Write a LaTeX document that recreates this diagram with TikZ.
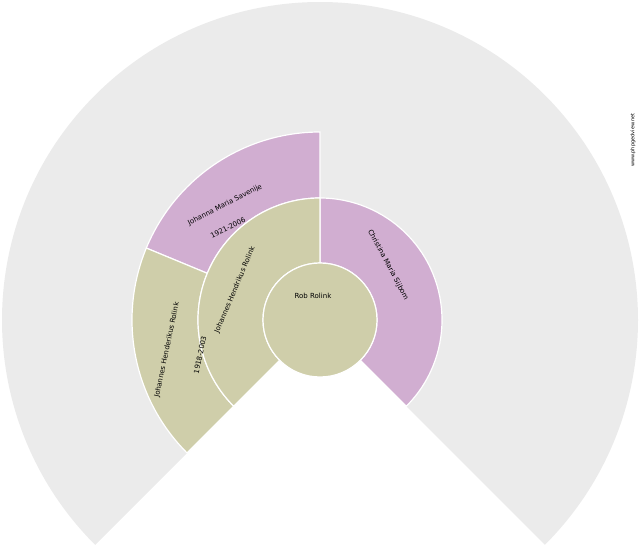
\documentclass[tikz,border=0pt]{standalone}
\usepackage{fontspec}
\setmainfont{DejaVu Sans}
\begin{document}
\begin{tikzpicture}[x=1pt,y=1pt,
 seg/.style={draw=white,line width=1.2pt},
 lbl/.style={font=\fontsize{7}{8}\selectfont,inner sep=0pt}]
\definecolor{tan}{HTML}{CFCEAA}
\definecolor{pur}{HTML}{D1AED1}
\definecolor{bg}{HTML}{EBEBEB}
\useasboundingbox (0,0) rectangle (640,550);
\coordinate (c) at (320,230);
\fill[bg] (c) -- ++(-45:318) arc[start angle=-45,end angle=225,radius=318] -- cycle;
% ring 2
\filldraw[seg,fill=pur] (c) ++(90:122) -- ++(90:66) arc[start angle=90,end angle=157.5,radius=188] -- ++(157.5:-66) arc[start angle=157.5,end angle=90,radius=122] -- cycle;
\filldraw[seg,fill=tan] (c) ++(157.5:122) -- ++(157.5:66) arc[start angle=157.5,end angle=225,radius=188] -- ++(225:-66) arc[start angle=225,end angle=157.5,radius=122] -- cycle;
% ring 1
\filldraw[seg,fill=pur] (c) ++(-45:57) -- ++(-45:65) arc[start angle=-45,end angle=90,radius=122] -- ++(90:-65) arc[start angle=90,end angle=-45,radius=57] -- cycle;
\filldraw[seg,fill=tan] (c) ++(90:57) -- ++(90:65) arc[start angle=90,end angle=225,radius=122] -- ++(225:-65) arc[start angle=225,end angle=90,radius=57] -- cycle;
\filldraw[seg,fill=tan] (c) circle[radius=57];
\node[lbl] (root) at (313,254) {Rob Rolink};
\node[lbl,rotate=-62] (mother) at (388,285) {Christina Maria Sijbom};
\node[lbl,rotate=67] (father) at (235,260) {Johannes Hendrikus Rolink};
\node[lbl,rotate=27] (gm) at (225,345) {Johanna Maria Savenije};
\node[lbl,rotate=27] (gmd) at (228,322) {1921-2006};
\node[lbl,rotate=78] (gf) at (167,200) {Johannes Henderikus Rolink};
\node[lbl,rotate=78] (gfd) at (200,195) {1918-2003};
\node[font=\fontsize{5}{6}\selectfont,rotate=90,inner sep=0pt] (wm) at (633,410) {www.phpgedview.net};
\end{tikzpicture}
\end{document}
